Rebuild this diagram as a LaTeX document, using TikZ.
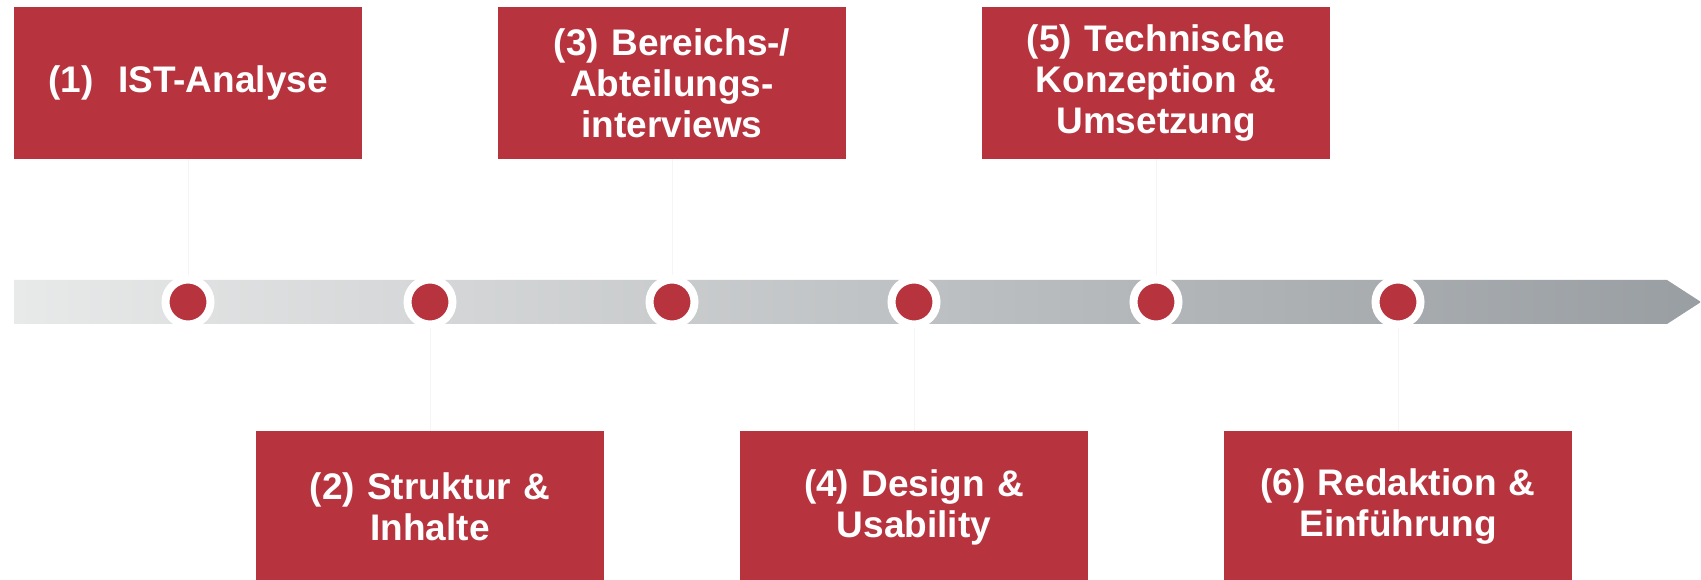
\documentclass[tikz,border=0pt]{standalone}
\usepackage{fontspec}
\setmainfont{Liberation Sans}
\usetikzlibrary{positioning}
\definecolor{phasered}{HTML}{B7343F}
\definecolor{barlight}{HTML}{E8E9E9}
\definecolor{bardark}{HTML}{999EA2}
\tikzstyle{phase} = [rectangle, minimum width=348pt, minimum height=152pt, text width=330pt, align=center, inner sep=0pt, fill=phasered, text=white, font=\fontsize{37}{41}\selectfont\bfseries]
\tikzstyle{milestone} = [circle, minimum size=45pt, inner sep=0pt, fill=phasered, draw=white, line width=8pt]
\tikzstyle{link} = [draw=black!4, line width=1pt]

\begin{document}
\begin{tikzpicture}[x=1pt, y=1pt, node distance=242pt]
	\useasboundingbox (0,0) rectangle (1701,579);
	\shade [left color=barlight, right color=bardark] (14,255) -- (1667,255) -- (1701,277) -- (1667,299) -- (14,299) -- cycle;
	\node (m1) [milestone] at (188,277) {};
	\node (m2) [milestone, right of=m1] {};
	\node (m3) [milestone, right of=m2] {};
	\node (m4) [milestone, right of=m3] {};
	\node (m5) [milestone, right of=m4] {};
	\node (m6) [milestone, right of=m5] {};
	\node (ist) [phase, above of=m1, node distance=219pt] {(1)~~IST-Analyse};
	\node (struktur) [phase, below of=m2, node distance=205pt] {(2) Struktur \&\\Inhalte};
	\node (interviews) [phase, above of=m3, node distance=219pt] {(3) Bereichs-/\\Abteilungs-\\interviews};
	\node (design) [phase, below of=m4, node distance=205pt] {(4) Design \&\\Usability};
	\node (technik) [phase, above of=m5, node distance=219pt] {(5) Technische\\Konzeption \&\\Umsetzung};
	\node (redaktion) [phase, below of=m6, node distance=205pt] {(6) Redaktion \&\\Einführung};
	\draw [link] (ist) -- (m1);
	\draw [link] (struktur) -- (m2);
	\draw [link] (interviews) -- (m3);
	\draw [link] (design) -- (m4);
	\draw [link] (technik) -- (m5);
	\draw [link] (redaktion) -- (m6);
\end{tikzpicture}
\end{document}
